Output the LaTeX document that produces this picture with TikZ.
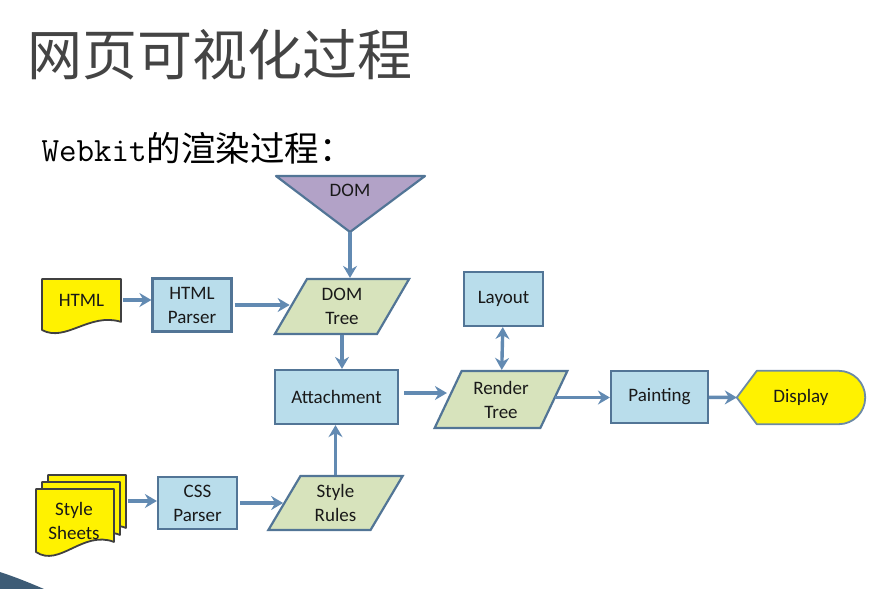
\documentclass[tikz,border=0pt]{standalone}
\usepackage{fontspec}
\setmainfont{Carlito}
\newfontfamily\cjk{Noto Sans CJK SC}
\usetikzlibrary{shapes.geometric,arrows.meta,backgrounds}
\definecolor{boxblue}{RGB}{185,221,235}
\definecolor{boxline}{RGB}{82,117,150}
\definecolor{paragreen}{RGB}{215,227,188}
\definecolor{domviolet}{RGB}{178,162,199}
\definecolor{docyellow}{RGB}{255,242,0}
\definecolor{arrowblue}{RGB}{98,138,178}
\definecolor{titlegray}{RGB}{68,68,68}
\definecolor{txt}{RGB}{25,25,25}
\definecolor{swoosh}{RGB}{62,92,118}
\newcommand\flowfont{\fontsize{19}{24}\selectfont}
% 文档形状: 左上角 x, y, 宽, 高
\newcommand\docsheet[4]{%
  \draw[docline] (#1,#2) -- ({#1+#3},#2) -- ({#1+#3},{#2+0.84*#4})
    .. controls ({#1+0.6*#3},{#2+0.65*#4}) and ({#1+0.3*#3},{#2+1.25*#4}) .. (#1,{#2+#4}) -- cycle;}
\begin{document}
\begin{tikzpicture}[x=1pt, y=-1pt,
    docline/.style={draw=black!75, fill=docyellow, line width=1.8pt, line join=round},
    bluebox/.style={draw=boxline, fill=boxblue, line width=2.2pt, minimum width=#1, minimum height=53,
      align=center, text=txt, font=\flowfont},
    para/.style={trapezium, trapezium left angle=63, trapezium right angle=117, trapezium stretches=true,
      draw=boxline, fill=paragreen, line width=2.2pt, minimum width=135, minimum height=55,
      inner sep=0pt, align=center, text=txt, font=\flowfont},
    plain/.style={align=center, text=txt, font=\flowfont, inner sep=0pt},
    arr/.style={draw=arrowblue, line width=3.4pt, -{Stealth[length=12pt,width=14pt,inset=4pt]}}]
  \useasboundingbox (0,0) rectangle (876,589);
  % 标题
  \node[anchor=west, text=titlegray, font=\cjk\fontsize{55}{62}\selectfont] (title) at (24,55) {网页可视化过程};
  \node[anchor=west, text=black] (sub) at (38,148)
    {{\fontsize{34}{40}\ttfamily Webkit}{\cjk\fontsize{34.5}{40}\selectfont 的渲染过程：}};
  % DOM 三角形
  \coordinate (domtip) at (350,232);
  \draw[draw=boxline, fill=domviolet, line width=2.2pt, line join=round] (276,176) -- (425,176) -- (domtip) -- cycle;
  \node[plain] (dom) at (350,190) {DOM};
  % 左侧文档
  \docsheet{42}{279}{79}{51}
  \node[plain, minimum width=79] (html) at (81.5,300) {HTML};
  \docsheet{48}{475}{78}{63}
  \docsheet{42}{482}{78}{63}
  \docsheet{36}{489}{78}{63}
  \node[plain] (ss) at (74,521) {Style\\Sheets};
  \coordinate (ssback) at (128,501);
  % 处理框
  \node[bluebox=79] (hp) at (192,305) {HTML\\Parser};
  \node[bluebox=79, minimum height=52] (css) at (197.5,503) {CSS\\Parser};
  \node[bluebox=123, minimum height=54] (att) at (336.5,397) {Attachment};
  \node[bluebox=79, minimum height=54] (lay) at (503.5,299) {Layout};
  \node[bluebox=97, minimum height=52] (pt) at (659.5,397) {Painting};
  % 平行四边形
  \node[para] (dt) at (342,306.5) {DOM\\Tree};
  \node[para, minimum width=134, minimum height=57] (rt) at (501,399.5) {Render\\Tree};
  \node[para, minimum height=54] (sr) at (335.5,503) {Style\\Rules};
  % Display
  \node[plain, minimum width=128, minimum height=53] (disp) at (801,397.5) {Display};
  \begin{scope}[on background layer]
    \draw[draw=boxline!85, fill=docyellow, line width=1.8pt, line join=round]
      (disp.west) -- ([xshift=20pt]disp.north west)
      {[rounded corners=26.5pt] -- (disp.north east) -- (disp.south east)}
      -- ([xshift=20pt]disp.south west) -- cycle;
  \end{scope}
  % 箭头
  \draw[arr] ([xshift=2pt]html.east) -- (html.east -| hp.west);
  \draw[arr] ([xshift=2pt]hp.east) -- (hp.east -| dt.west);
  \draw[arr] (domtip) -- (domtip |- dt.north);
  \draw[arr] (dt.center |- dt.south) -- (dt.center |- att.north);
  \draw[arr] (sr.center |- sr.north) -- (sr.center |- att.south);
  \draw[arr] (ssback) -- (ssback -| css.west);
  \draw[arr] ([xshift=2pt]css.east) -- (css.east -| sr.west);
  \draw[arr] ([shift={(5pt,4pt)}]att.east) -- ([yshift=4pt]att.east -| rt.west);
  \draw[arr, {Stealth[length=12pt,width=14pt,inset=4pt]}-{Stealth[length=12pt,width=14pt,inset=4pt]}] (lay) -- (rt);
  \draw[arr] ([yshift=2pt]rt.east) -- ([yshift=2pt]rt.east -| pt.west);
  \draw[arr] (pt) -- (disp.west);
  % 左下角装饰
  \fill[swoosh] (0,572) .. controls (18,578) and (30,583) .. (44,589) -- (0,589) -- cycle;
\end{tikzpicture}
\end{document}
